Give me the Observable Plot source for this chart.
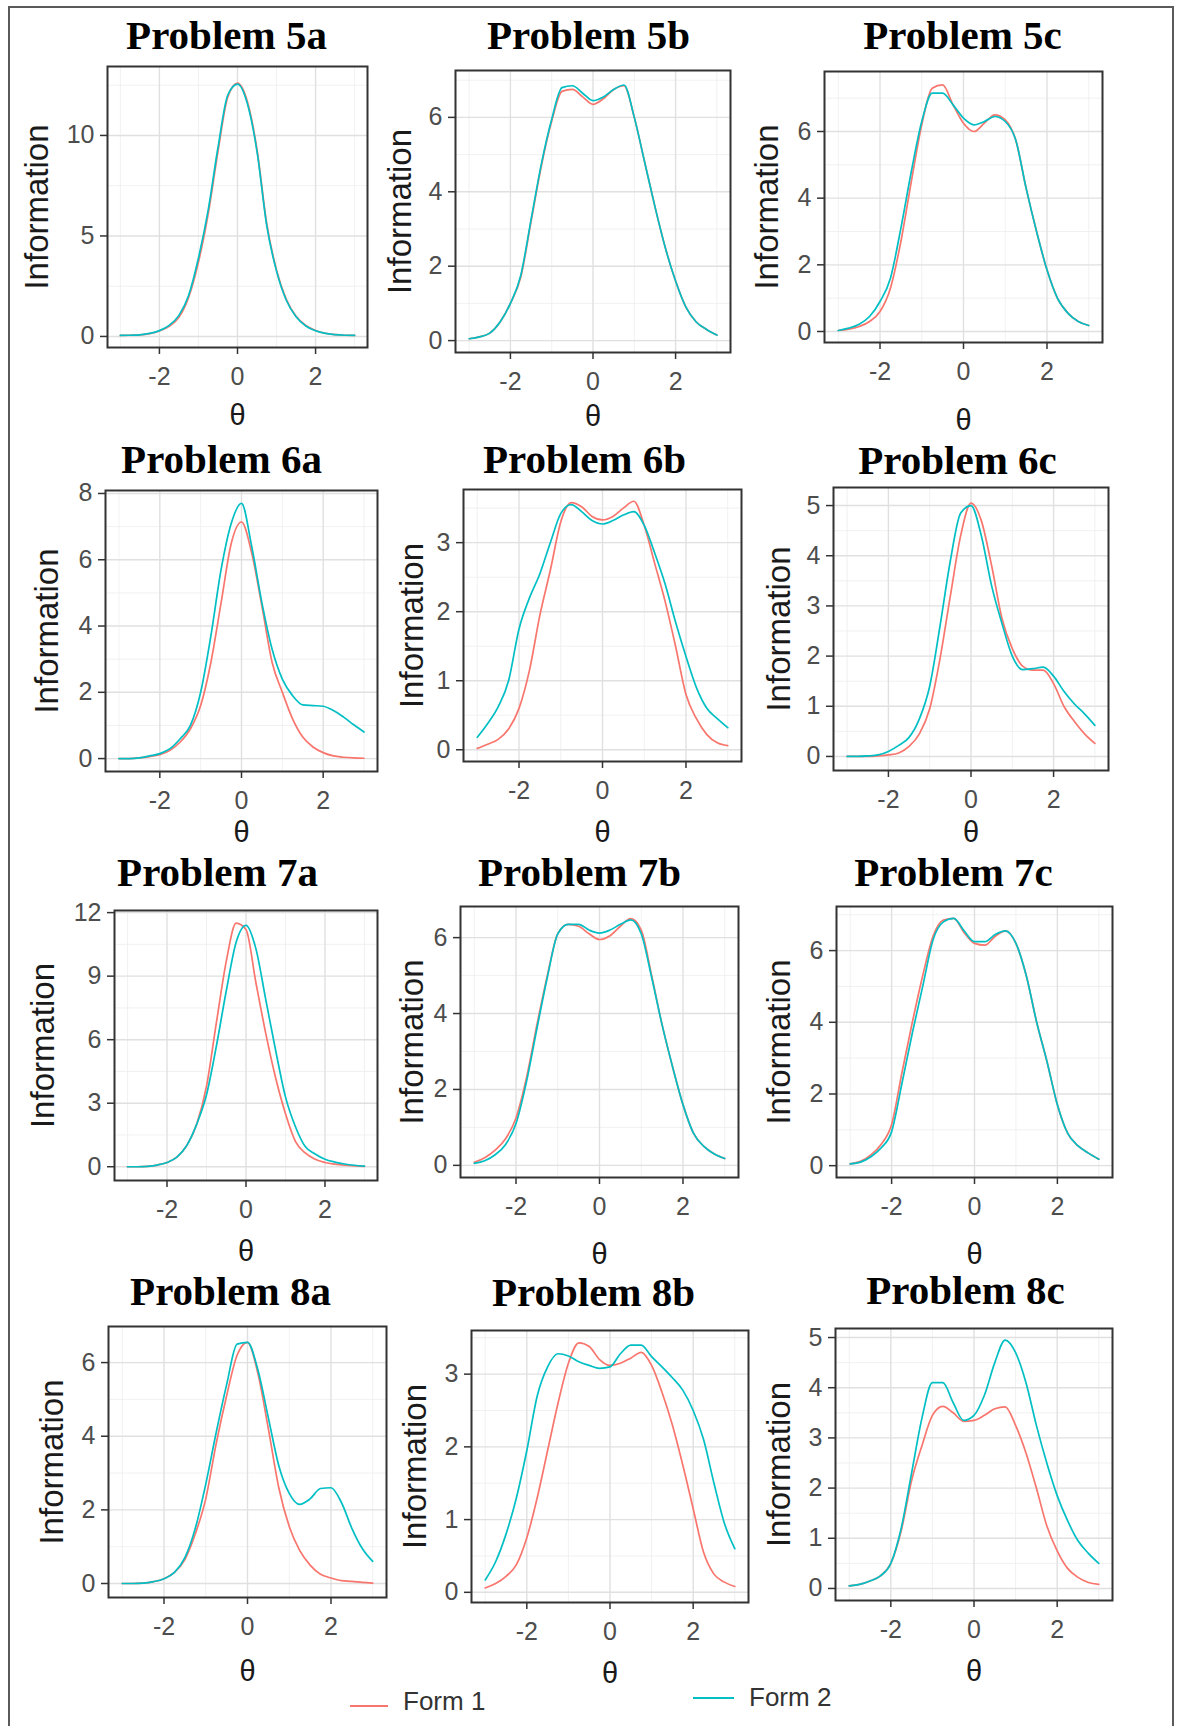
<!DOCTYPE html>
<html>
<head>
<meta charset="utf-8">
<script src="https://cdn.jsdelivr.net/npm/d3@7"></script>
<script src="https://cdn.jsdelivr.net/npm/@observablehq/plot@0.6"></script>
<style>
  html, body { margin: 0; padding: 0; background: #fff; }
  #page { position: relative; width: 1179px; height: 1726px; overflow: hidden; background: #fff; font-family: "Liberation Sans", Arial, sans-serif; }
  #page svg { position: absolute; overflow: visible; }
  .border { position: absolute; left: 8px; top: 6px; width: 1166px; height: 1760px; border: 2px solid #5a5a5a; box-sizing: border-box; }
  .lkey { position: absolute; height: 2px; }
  .ltxt { position: absolute; font-size: 26px; color: #333; line-height: 1; }
</style>
</head>
<body>
<div id="page"><div class="border"></div></div>
<script>
// ---------- data ----------
const theta = [-3,-2.75,-2.5,-2.25,-2,-1.75,-1.5,-1.25,-1,-0.75,-0.5,-0.25,0,0.25,0.5,0.75,1,1.25,1.5,1.75,2,2.25,2.5,2.75,3];
const forms = ["Form 1", "Form 2"];
const formColors = ["#F8766D", "#00BFC4"];
const problems = ["Problem 5a","Problem 5b","Problem 5c","Problem 6a","Problem 6b","Problem 6c","Problem 7a","Problem 7b","Problem 7c","Problem 8a","Problem 8b","Problem 8c"];

const p5a_form1 = [0.05,0.06,0.08,0.14,0.27,0.5,0.95,1.95,3.7,6.1,9.2,11.9,12.6,11.7,9.3,5.6,3.3,1.85,1.0,0.55,0.3,0.16,0.09,0.06,0.05];
const p5a_form2 = [0.05,0.06,0.08,0.15,0.29,0.55,1.05,2.05,3.9,6.3,9.4,12.0,12.55,11.6,9.2,5.5,3.25,1.8,0.98,0.52,0.28,0.15,0.09,0.06,0.05];
const p5b_form1 = [0.05,0.1,0.2,0.5,1.0,1.7,3.2,4.7,5.9,6.7,6.75,6.55,6.35,6.5,6.75,6.85,6.0,4.8,3.6,2.5,1.6,0.9,0.5,0.3,0.15];
const p5b_form2 = [0.05,0.1,0.2,0.5,1.0,1.75,3.25,4.75,5.95,6.8,6.85,6.65,6.45,6.55,6.75,6.87,6.0,4.8,3.6,2.5,1.6,0.9,0.5,0.3,0.15];
const p5c_form1 = [0.03,0.07,0.15,0.3,0.6,1.3,2.7,4.5,6.2,7.3,7.4,6.8,6.25,6.0,6.25,6.5,6.35,5.75,4.3,3.0,1.85,1.0,0.55,0.3,0.18];
const p5c_form2 = [0.03,0.1,0.22,0.45,0.9,1.6,3.1,4.8,6.3,7.15,7.15,6.8,6.4,6.2,6.3,6.45,6.3,5.75,4.3,3.0,1.85,1.0,0.55,0.3,0.18];
const p6a_form1 = [0,0,0.02,0.06,0.12,0.25,0.5,0.9,1.6,2.9,4.7,6.5,7.14,6.2,4.6,2.9,2.0,1.2,0.65,0.35,0.18,0.08,0.04,0.02,0.01];
const p6a_form2 = [0,0,0.02,0.08,0.15,0.3,0.6,1.0,2.0,3.7,5.7,7.1,7.7,6.4,4.7,3.3,2.4,1.9,1.62,1.6,1.58,1.45,1.25,1.02,0.8];
const p6b_form1 = [0.02,0.08,0.15,0.3,0.6,1.15,1.95,2.6,3.3,3.58,3.52,3.38,3.33,3.38,3.5,3.6,3.25,2.7,2.15,1.5,0.8,0.45,0.22,0.1,0.06];
const p6b_form2 = [0.18,0.38,0.62,1.0,1.75,2.2,2.55,3.0,3.42,3.55,3.45,3.32,3.27,3.32,3.4,3.45,3.25,2.85,2.4,1.85,1.35,0.9,0.6,0.45,0.32];
const p6c_form1 = [0,0,0,0.01,0.03,0.07,0.2,0.45,0.95,1.95,3.2,4.4,5.05,4.7,3.8,2.75,2.15,1.8,1.72,1.72,1.45,1.0,0.7,0.45,0.26];
const p6c_form2 = [0,0,0.01,0.03,0.1,0.22,0.38,0.75,1.4,2.6,3.9,4.85,5.0,4.4,3.4,2.65,2.0,1.73,1.75,1.78,1.6,1.3,1.05,0.85,0.62];
const p7a_form1 = [0,0,0.02,0.08,0.2,0.45,1.0,2.0,3.8,6.8,9.7,11.5,11.2,8.7,6.3,4.2,2.5,1.2,0.65,0.35,0.2,0.12,0.07,0.04,0.02];
const p7a_form2 = [0,0,0.02,0.08,0.2,0.45,1.0,2.0,3.4,5.7,8.3,10.6,11.4,10.3,7.9,5.5,3.3,1.9,0.95,0.6,0.35,0.22,0.13,0.07,0.03];
const p7b_form1 = [0.08,0.2,0.4,0.7,1.25,2.3,3.7,5.0,6.1,6.35,6.3,6.1,5.95,6.05,6.3,6.5,6.2,5.0,3.7,2.6,1.6,0.85,0.5,0.3,0.18];
const p7b_form2 = [0.05,0.12,0.28,0.55,1.1,2.2,3.6,4.95,6.1,6.35,6.35,6.2,6.12,6.2,6.35,6.47,6.1,4.95,3.7,2.6,1.6,0.85,0.5,0.3,0.18];
const p7c_form1 = [0.05,0.12,0.3,0.6,1.15,2.6,4.0,5.3,6.4,6.85,6.9,6.5,6.2,6.15,6.4,6.55,6.2,5.3,4.0,2.9,1.7,0.9,0.55,0.35,0.18];
const p7c_form2 = [0.05,0.1,0.25,0.5,0.95,2.3,3.7,5.0,6.3,6.8,6.9,6.55,6.25,6.25,6.45,6.55,6.2,5.3,4.0,2.9,1.7,0.9,0.55,0.35,0.18];
const p8a_form1 = [0,0,0.01,0.05,0.13,0.3,0.65,1.35,2.3,3.8,5.1,6.2,6.55,5.7,4.2,2.6,1.55,0.9,0.5,0.25,0.15,0.08,0.06,0.03,0.01];
const p8a_form2 = [0,0,0.01,0.05,0.13,0.3,0.7,1.5,2.7,4.1,5.4,6.5,6.55,5.8,4.5,3.2,2.45,2.15,2.3,2.58,2.6,2.2,1.5,0.95,0.6];
const p8b_form1 = [0.06,0.12,0.22,0.38,0.75,1.3,1.95,2.6,3.15,3.43,3.38,3.2,3.12,3.15,3.22,3.3,3.12,2.75,2.3,1.75,1.15,0.55,0.25,0.14,0.08];
const p8b_form2 = [0.17,0.42,0.8,1.3,1.95,2.7,3.1,3.28,3.25,3.17,3.12,3.08,3.1,3.28,3.4,3.4,3.24,3.1,2.95,2.78,2.5,2.1,1.5,0.95,0.6];
const p8c_form1 = [0.05,0.08,0.15,0.25,0.5,1.15,2.15,2.85,3.45,3.63,3.5,3.33,3.35,3.45,3.58,3.62,3.25,2.7,2.0,1.25,0.75,0.4,0.22,0.12,0.08];
const p8c_form2 = [0.05,0.08,0.15,0.25,0.5,1.2,2.3,3.4,4.1,4.1,3.7,3.35,3.45,3.85,4.5,4.95,4.7,4.1,3.25,2.5,1.85,1.35,0.95,0.7,0.5];

const series = [
  [p5a_form1, p5a_form2], [p5b_form1, p5b_form2], [p5c_form1, p5c_form2],
  [p6a_form1, p6a_form2], [p6b_form1, p6b_form2], [p6c_form1, p6c_form2],
  [p7a_form1, p7a_form2], [p7b_form1, p7b_form2], [p7c_form1, p7c_form2],
  [p8a_form1, p8a_form2], [p8b_form1, p8b_form2], [p8c_form1, p8c_form2]
];

// axis ticks
const xTicks = [-2, 0, 2];
const xMinor = [-3, -1, 1, 3];
const yTicks = [
  [0,5,10], [0,2,4,6], [0,2,4,6],
  [0,2,4,6,8], [0,1,2,3], [0,1,2,3,4,5],
  [0,3,6,9,12], [0,2,4,6], [0,2,4,6],
  [0,2,4,6], [0,1,2,3], [0,1,2,3,4,5]
];
const yDomains = [
  [-0.55,13.43], [-0.32,7.26], [-0.33,7.8],
  [-0.39,8.09], [-0.17,3.77], [-0.28,5.36],
  [-0.65,12.1], [-0.32,6.82], [-0.33,7.23],
  [-0.38,6.98], [-0.14,3.6], [-0.24,5.18]
];
const xDomain = [-3.33, 3.33];

// ---------- layout (page pixels) ----------
// [frameLeft, frameRight, frameTop, frameBottom, titleX, titleBaseline, yLabelX, thetaY]
const layout = [
  [107, 367, 66, 347, 226, 48, 37, 415],
  [455, 730, 70, 352, 588, 48, 400, 416],
  [824, 1102, 71, 342, 962, 48, 767, 420],
  [105, 377, 490, 771, 221, 472, 47, 832],
  [463, 741, 489, 761, 584, 472, 412, 832],
  [833, 1108, 487, 770, 957, 473, 779, 832],
  [114, 377, 910, 1180, 217, 885, 43, 1251],
  [460, 738, 906, 1177, 579, 885, 412, 1254],
  [836, 1112, 906, 1177, 953, 885, 779, 1254],
  [108, 386, 1326, 1597, 230, 1304, 52, 1671],
  [471, 748, 1330, 1602, 593, 1305, 415, 1673],
  [835, 1112, 1328, 1600, 965, 1303, 779, 1671]
];

const page = document.getElementById("page");
const mL = 95, mR = 12, mT = 80, mB = 100;

series.forEach((pair, k) => {
  const [fl, fr, ft, fb, tx, tb, ix, ty] = layout[k];
  const rows = [];
  pair.forEach((vals, f) => vals.forEach((v, i) => rows.push({theta: theta[i], info: v, form: forms[f]})));
  const dom = yDomains[k];
  const major = yTicks[k];
  const step = major[1] - major[0];
  const minor = d3.range(major[0] + step / 2, dom[1], step).filter(v => v > dom[0] && v < dom[1]);
  const svg = Plot.plot({
    width: fr - fl + mL + mR,
    height: fb - ft + mT + mB,
    marginLeft: mL, marginRight: mR, marginTop: mT, marginBottom: mB,
    style: {background: "transparent", fontFamily: "'Liberation Sans', Arial, sans-serif", overflow: "visible"},
    x: {domain: xDomain},
    y: {domain: dom},
    color: {domain: forms, range: formColors},
    marks: [
      Plot.gridX(xMinor, {stroke: "#EEEEEE", strokeOpacity: 1, strokeWidth: 0.8}),
      Plot.gridY(minor, {stroke: "#EEEEEE", strokeOpacity: 1, strokeWidth: 0.8}),
      Plot.gridX(xTicks, {stroke: "#E0E0E0", strokeOpacity: 1, strokeWidth: 1.4}),
      Plot.gridY(major, {stroke: "#E0E0E0", strokeOpacity: 1, strokeWidth: 1.4}),
      Plot.line(rows, {x: "theta", y: "info", stroke: "form", z: "form", strokeWidth: 1.7, curve: "monotone-x"}),
      Plot.frame({stroke: "#333", strokeWidth: 2}),
      Plot.axisX(xTicks, {color: "#4D4D4D", stroke: "#333", strokeWidth: 1.5, tickSize: 7, tickPadding: 13, fontSize: 25, label: null, tickFormat: d => String(d)}),
      Plot.axisY(major, {color: "#4D4D4D", stroke: "#333", strokeWidth: 1.5, tickSize: 7, tickPadding: 6, fontSize: 25, label: null, tickFormat: d => String(d)}),
      Plot.text(["Information"], {frameAnchor: "left", textAnchor: "middle", lineAnchor: "middle", rotate: -90, dx: ix - fl, fontSize: 33, fill: "#1a1a1a"}),
      Plot.text(["θ"], {x: () => 0, frameAnchor: "bottom", textAnchor: "middle", lineAnchor: "middle", dy: ty - fb, fontSize: 29, fill: "#1a1a1a"}),
      Plot.text([problems[k]], {frameAnchor: "top-left", dx: tx - fl, dy: tb - ft, textAnchor: "middle", lineAnchor: "bottom",
        fontSize: 41, fontWeight: "bold", fontFamily: "'Liberation Serif', 'Times New Roman', serif", fill: "#000"})
    ]
  });
  svg.style.left = (fl - mL) + "px";
  svg.style.top = (ft - mT) + "px";
  page.appendChild(svg);
});

// ---------- legend ----------
const legendItems = [
  {key: [350, 1705, 38], text: [403, 1688]},
  {key: [693, 1697, 41], text: [749, 1684]}
];
legendItems.forEach((it, i) => {
  const line = document.createElement("div");
  line.className = "lkey";
  line.style.left = it.key[0] + "px";
  line.style.top = it.key[1] + "px";
  line.style.width = it.key[2] + "px";
  line.style.background = formColors[i];
  page.appendChild(line);
  const t = document.createElement("div");
  t.className = "ltxt";
  t.style.left = it.text[0] + "px";
  t.style.top = it.text[1] + "px";
  t.textContent = forms[i];
  page.appendChild(t);
});
</script>
</body>
</html>
